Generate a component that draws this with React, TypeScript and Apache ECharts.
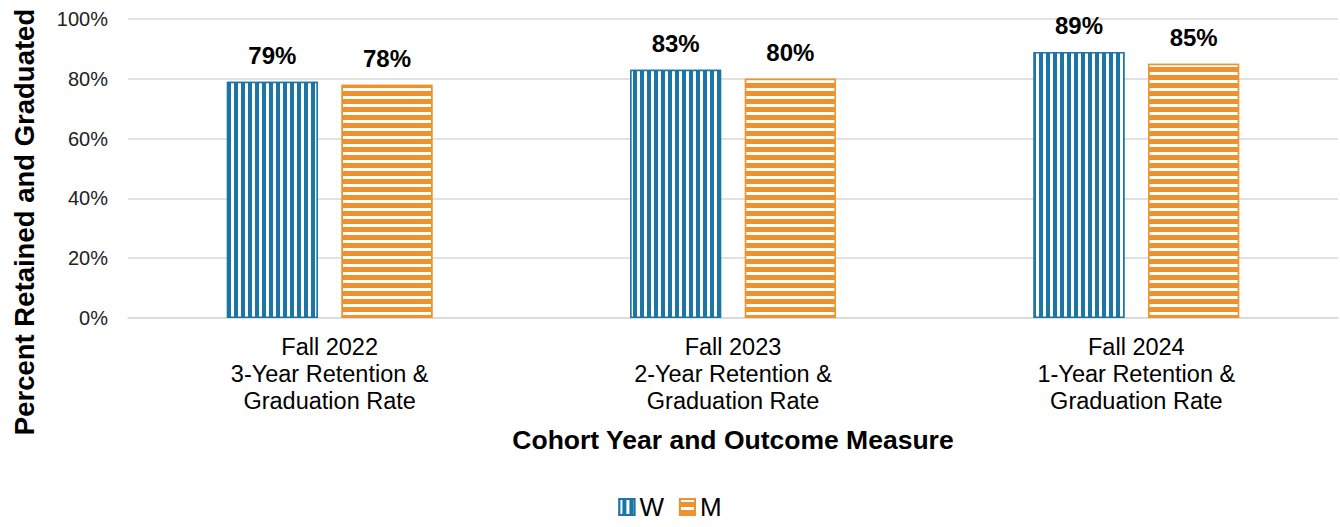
import React, { useEffect, useRef } from "react";
import * as echarts from "echarts";

const categories = [
  "Fall 2022\n3-Year Retention &\nGraduation Rate",
  "Fall 2023\n2-Year Retention &\nGraduation Rate",
  "Fall 2024\n1-Year Retention &\nGraduation Rate",
];
const seriesNames = ["W", "M"];
const wValues = [79, 83, 89];
const mValues = [78, 80, 85];
const yTicks = { min: 0, max: 100, interval: 20 };

const BLUE = "#1b75a6";
const ORANGE = "#ee922f";
const FONT = "'Liberation Sans', Arial, sans-serif";

export default function App() {
  const ref = useRef<HTMLDivElement>(null);
  useEffect(() => {
    document.body.style.margin = "0";
    const chart = echarts.init(ref.current!, null, { renderer: "svg" });
    const label = {
      show: true,
      position: "top",
      distance: 14,
      formatter: "{c}%",
      fontFamily: FONT,
      fontWeight: "bold",
      fontSize: 24,
      color: "#000",
    };
    chart.setOption({
      animation: false,
      textStyle: { fontFamily: FONT },
      grid: { left: 128, right: 2, top: 19, bottom: 209, containLabel: false },
      legend: {
        bottom: 2,
        left: "center",
        icon: "rect",
        itemWidth: 15,
        itemHeight: 16,
        itemGap: 15,
        textStyle: { fontSize: 26, color: "#000", fontFamily: FONT },
        data: seriesNames,
      },
      xAxis: {
        type: "category",
        data: categories,
        name: "Cohort Year and Outcome Measure",
        nameLocation: "middle",
        nameGap: 108,
        nameTextStyle: { fontSize: 26.5, fontWeight: "bold", color: "#000", fontFamily: FONT },
        axisLine: { show: true, lineStyle: { color: "#d9d9d9", width: 1.5 } },
        axisTick: { show: false },
        axisLabel: {
          fontSize: 23.5,
          lineHeight: 27,
          color: "#000",
          margin: 15,
          fontFamily: FONT,
        },
      },
      yAxis: {
        type: "value",
        min: yTicks.min,
        max: yTicks.max,
        interval: yTicks.interval,
        axisLine: { show: false },
        axisTick: { show: false },
        splitLine: { lineStyle: { color: "#d9d9d9", width: 1.5 } },
        axisLabel: {
          formatter: "{value}%",
          fontSize: 20,
          color: "#222",
          margin: 20,
          fontFamily: FONT,
        },
      },
      graphic: [
        {
          type: "text",
          x: 24,
          y: 222,
          rotation: Math.PI / 2,
          style: {
            text: "Percent Retained and Graduated",
            fontSize: 27.5,
            fontWeight: "bold",
            fill: "#000",
            fontFamily: FONT,
            align: "center",
            verticalAlign: "middle",
          },
        },
      ],
      series: [
        {
          name: seriesNames[0],
          type: "bar",
          data: wValues,
          barWidth: 91,
          barGap: "26%",
          itemStyle: {
            color: BLUE,
            borderColor: BLUE,
            borderWidth: 1.5,
            decal: {
              symbol: "rect",
              symbolSize: 1,
              color: "#ffffff",
              dashArrayX: [3, 4],
              dashArrayY: [1, 0],
              rotation: 0,
            },
          },
          label,
        },
        {
          name: seriesNames[1],
          type: "bar",
          data: mValues,
          barWidth: 91,
          itemStyle: {
            color: ORANGE,
            borderColor: ORANGE,
            borderWidth: 1.5,
            decal: {
              symbol: "rect",
              symbolSize: 1,
              color: "#ffffff",
              dashArrayX: [1, 0],
              dashArrayY: [3, 5],
              rotation: 0,
            },
          },
          label,
        },
      ],
    });
    return () => chart.dispose();
  }, []);
  return <div ref={ref} style={{ width: 1340, height: 527 }} />;
}
